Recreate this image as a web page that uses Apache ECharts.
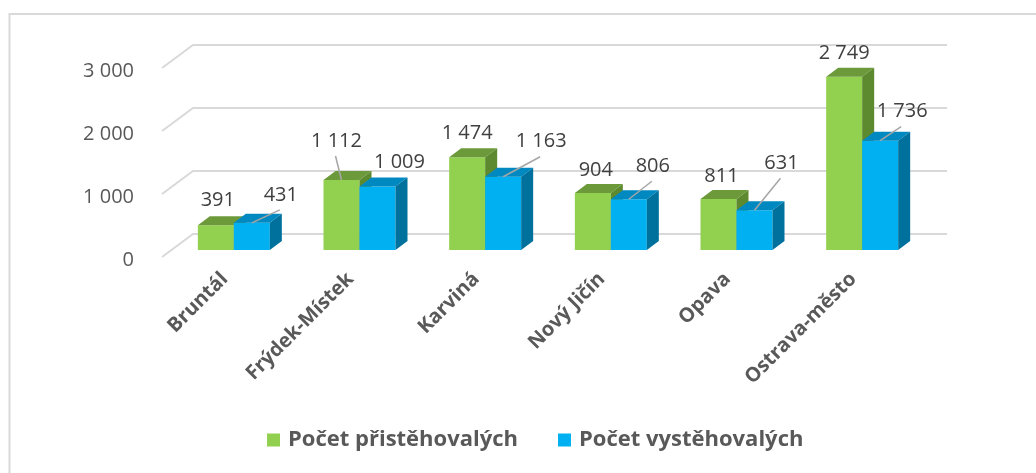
<!DOCTYPE html>
<html>
<head>
<meta charset="utf-8">
<script src="https://cdn.jsdelivr.net/npm/echarts@6/dist/echarts.min.js"></script>
<style>
html, body { margin: 0; padding: 0; background: #fff; }
#main { width: 1036px; height: 473px; }
</style>
</head>
<body>
<div id="main"></div>
<script>
// okresy Moravskoslezského kraje
const districts = ['Bruntál', 'Frýdek-Místek', 'Karviná', 'Nový Jičín', 'Opava', 'Ostrava-město'];
const immigrants = [391, 1112, 1474, 904, 811, 2749];
const emigrants = [431, 1009, 1163, 806, 631, 1736];
const yTicks = [0, 1000, 2000, 3000];

// posun popisku od horni hrany sloupce [dx, dy, odkazova cara]
const inLabelPos = [[2, -27, false], [-5, -41, true], [0, -26, false], [3, -25, false], [3, -25, false], [0, -26, false]];
const outLabelPos = [[29, -30, true], [22, -26, false], [38, -37, true], [24, -35, true], [27, -49, true], [22, -31, true]];

const FONT = '"Open Sans", "Noto Sans", sans-serif';
const BAR_W = 36;
const DEPTH_X = 12, DEPTH_Y = 9;

function fmt(v) {
    return String(v).replace(/\B(?=(\d{3})+(?!\d))/g, ' ');
}

function barRenderer(side, faces, labelPos) {
    return function (params, api) {
        const i = api.value(0);
        const v = api.value(1);
        const base = api.coord([i, 0]);
        const top = api.coord([i, v]);
        const x0 = side === 0 ? base[0] - BAR_W : base[0];
        const x1 = x0 + BAR_W;
        const yb = base[1], yt = top[1];
        const children = [
            { type: 'rect', shape: { x: x0, y: yt, width: BAR_W, height: yb - yt }, style: { fill: faces[0] } },
            { type: 'polygon', shape: { points: [[x0, yt], [x1, yt], [x1 + DEPTH_X, yt - DEPTH_Y], [x0 + DEPTH_X, yt - DEPTH_Y]] }, style: { fill: faces[1] } },
            { type: 'polygon', shape: { points: [[x1, yt], [x1 + DEPTH_X, yt - DEPTH_Y], [x1 + DEPTH_X, yb - DEPTH_Y], [x1, yb]] }, style: { fill: faces[2] } }
        ];
        const lp = labelPos[i];
        const cx = x0 + BAR_W / 2;
        const lx = cx + lp[0], ly = yt + lp[1];
        if (lp[2]) {
            children.push({ type: 'line', shape: { x1: cx, y1: yt, x2: lx - 1, y2: ly + 17 }, style: { stroke: '#a6a6a6', lineWidth: 1.5 } });
        }
        children.push({
            type: 'text', x: lx, y: ly + 2,
            style: { text: fmt(v), fill: '#404040', fontSize: 20, fontFamily: FONT, align: 'center', verticalAlign: 'middle' }
        });
        return { type: 'group', children: children };
    };
}

const chart = echarts.init(document.getElementById('main'));
chart.setOption({
    animation: false,
    backgroundColor: '#fff',
    graphic: [{
        type: 'rect', silent: true,
        shape: { x: 9.5, y: 14, width: 1100, height: 600 },
        style: { fill: 'transparent', stroke: '#d9d9d9', lineWidth: 2 }
    }],
    legend: {
        left: 262, top: 424,
        itemWidth: 13, itemHeight: 13, itemGap: 40,
        icon: 'rect', selectedMode: false,
        textStyle: { fontSize: 22, fontWeight: 'bold', color: '#595959', fontFamily: FONT, padding: [0, 0, 0, 3] },
        data: ['Počet přistěhovalých', 'Počet vystěhovalých']
    },
    grid: [
        // popisky os (predni hrana podlahy)
        { left: 162, top: 71, width: 754, height: 189 },
        // predni rovina sloupcu
        { left: 171, top: 61, width: 754, height: 189 }
    ],
    xAxis: [
        {
            type: 'category', gridIndex: 0, data: districts,
            axisLine: { show: false }, axisTick: { show: false },
            axisLabel: { rotate: 45, margin: 16, interval: 0, fontSize: 20, fontWeight: 'bold', color: '#595959', fontFamily: FONT }
        },
        { type: 'category', gridIndex: 1, data: districts, show: false }
    ],
    yAxis: [
        {
            type: 'value', gridIndex: 0, min: 0, max: 3000, interval: 1000,
            axisLine: { show: false }, axisTick: { show: false }, splitLine: { show: false },
            axisLabel: { margin: 28, fontSize: 20, color: '#595959', fontFamily: FONT, formatter: fmt }
        },
        { type: 'value', gridIndex: 1, min: 0, max: 3000, interval: 1000, show: false }
    ],
    series: [
        {
            type: 'custom', name: 'grid', xAxisIndex: 1, yAxisIndex: 1, clip: false, silent: true, z: 1,
            data: yTicks.map(v => [0, v]),
            renderItem: function (params, api) {
                const cs = params.coordSys;
                const y = api.coord([0, api.value(1)])[1];
                const xl = cs.x, xr = cs.x + cs.width;
                return {
                    type: 'polyline',
                    shape: { points: [[xl - 9, y + 7], [xl + 22, y - 16], [xr + 22, y - 16]] },
                    style: { stroke: '#d9d9d9', lineWidth: 2, fill: null }
                };
            }
        },
        {
            type: 'custom', name: 'Počet přistěhovalých', xAxisIndex: 1, yAxisIndex: 1, clip: false, z: 2,
            itemStyle: { color: '#92d050' },
            data: immigrants.map((v, i) => [i, v]),
            renderItem: barRenderer(0, ['#92d050', '#6c9a3b', '#5e8a2f'], inLabelPos)
        },
        {
            type: 'custom', name: 'Počet vystěhovalých', xAxisIndex: 1, yAxisIndex: 1, clip: false, z: 3,
            itemStyle: { color: '#00b0f0' },
            data: emigrants.map((v, i) => [i, v]),
            renderItem: barRenderer(1, ['#00b0f0', '#0089c1', '#00709c'], outLabelPos)
        }
    ]
});
</script>
</body>
</html>
